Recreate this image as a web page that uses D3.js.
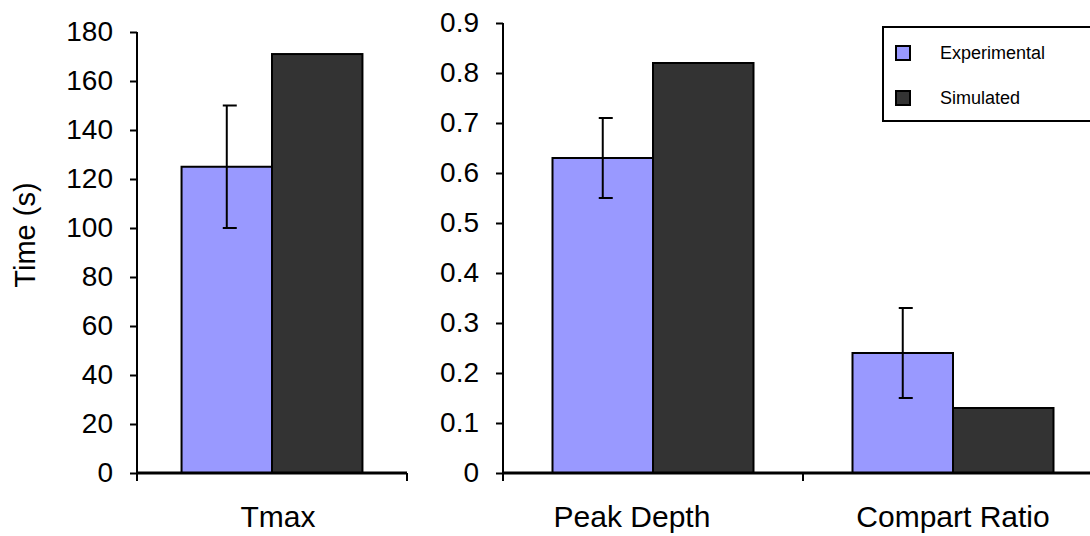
<!DOCTYPE html>
<html>
<head>
<meta charset="utf-8">
<script src="https://cdn.jsdelivr.net/npm/d3@7"></script>
<style>
  html, body { margin: 0; padding: 0; background: #fff; }
  svg { display: block; font-family: "Liberation Sans", Arial, sans-serif; }
</style>
</head>
<body>
<svg id="chart" width="1090" height="536"></svg>
<script>
// ---- data ----
const seriesNames = ["Experimental", "Simulated"];
const seriesColors = ["#9999FF", "#333333"];

const leftCategories = ["Tmax"];
const leftExperimental = [125];
const leftSimulated = [171];
const leftErrors = [25];
const leftTicks = [0, 20, 40, 60, 80, 100, 120, 140, 160, 180];
const leftTickLabels = ["0", "20", "40", "60", "80", "100", "120", "140", "160", "180"];

const rightCategories = ["Peak Depth", "Compart Ratio"];
const rightExperimental = [0.63, 0.24];
const rightSimulated = [0.82, 0.13];
const rightErrors = [0.08, 0.09];
const rightTicks = [0, 0.1, 0.2, 0.3, 0.4, 0.5, 0.6, 0.7, 0.8, 0.9];
const rightTickLabels = ["0", "0.1", "0.2", "0.3", "0.4", "0.5", "0.6", "0.7", "0.8", "0.9"];

const yLabel = "Time (s)";

// ---- drawing ----
const svg = d3.select("#chart");
const baseY = 473;

function panel(cfg) {
  const g = svg.append("g");
  const y = d3.scaleLinear().domain([0, cfg.max]).range([baseY, cfg.top]);
  const x0 = d3.scaleBand().domain(cfg.categories).range([cfg.x0, cfg.x1])
    .paddingInner(0.33).paddingOuter(0.165);
  const xs = d3.scaleBand().domain(seriesNames).range([0, x0.bandwidth()]);
  const color = d3.scaleOrdinal().domain(seriesNames).range(seriesColors);

  const rows = cfg.categories.map((c, i) => ({
    cat: c, vals: [cfg.exp[i], cfg.sim[i]], err: cfg.err[i]
  }));

  // bars
  rows.forEach(r => {
    r.vals.forEach((v, j) => {
      const s = seriesNames[j];
      g.append("rect")
        .attr("x", x0(r.cat) + xs(s))
        .attr("y", y(v))
        .attr("width", xs.bandwidth())
        .attr("height", baseY - y(v))
        .attr("fill", color(s))
        .attr("stroke", "#000")
        .attr("stroke-width", 2);
    });
    // error bar on experimental
    const cx = x0(r.cat) + xs(seriesNames[0]) + xs.bandwidth() / 2;
    const yt = y(r.vals[0] + r.err), yb = y(r.vals[0] - r.err);
    const eg = g.append("g").attr("stroke", "#000").attr("stroke-width", 2);
    eg.append("line").attr("x1", cx).attr("x2", cx).attr("y1", yt).attr("y2", yb);
    eg.append("line").attr("x1", cx - 4).attr("x2", cx + 10).attr("y1", yt).attr("y2", yt);
    eg.append("line").attr("x1", cx - 4).attr("x2", cx + 10).attr("y1", yb).attr("y2", yb);
  });

  // y axis
  const ax = d3.axisLeft(y).tickValues(cfg.ticks)
    .tickFormat((d, i) => cfg.tickLabels[i])
    .tickSize(7).tickSizeOuter(0).tickPadding(17);
  const ag = g.append("g").attr("transform", `translate(${cfg.x0},0)`).call(ax);
  ag.select(".domain").remove();
  ag.selectAll(".tick line").attr("stroke", "#000").attr("stroke-width", 2);
  ag.selectAll(".tick text").attr("font-size", 28).attr("fill", "#000")
    .attr("font-family", "'Liberation Sans', Arial, sans-serif");
  g.append("line").attr("x1", cfg.x0).attr("x2", cfg.x0)
    .attr("y1", y(cfg.max)).attr("y2", baseY + 8)
    .attr("stroke", "#000").attr("stroke-width", 2);

  // x baseline
  g.append("line").attr("x1", cfg.x0).attr("x2", Math.min(cfg.x1, 1090))
    .attr("y1", baseY).attr("y2", baseY)
    .attr("stroke", "#000").attr("stroke-width", 3);
  // category boundary ticks
  const step = x0.step();
  const bounds = d3.range(1, cfg.categories.length + 1).map(i => cfg.x0 + i * step);
  bounds.forEach(bx => {
    g.append("line").attr("x1", bx).attr("x2", bx)
      .attr("y1", baseY).attr("y2", baseY + 8)
      .attr("stroke", "#000").attr("stroke-width", 2);
  });

  // category labels
  g.selectAll("text.cat").data(cfg.categories).enter().append("text")
    .attr("class", "cat")
    .attr("x", d => x0(d) + x0.bandwidth() / 2 + (cfg.labelShift ? cfg.labelShift[cfg.categories.indexOf(d)] : 0))
    .attr("y", 527)
    .attr("text-anchor", "middle")
    .attr("font-size", 30)
    .attr("fill", "#000")
    .text(d => d);
}

panel({
  categories: leftCategories, exp: leftExperimental, sim: leftSimulated, err: leftErrors,
  ticks: leftTicks, tickLabels: leftTickLabels, max: 180, top: 32, x0: 137, x1: 407,
  labelShift: [6]
});
panel({
  categories: rightCategories, exp: rightExperimental, sim: rightSimulated, err: rightErrors,
  ticks: rightTicks, tickLabels: rightTickLabels, max: 0.9, top: 23, x0: 503, x1: 1103,
  labelShift: [-21, 0]
});

// y axis title
svg.append("text")
  .attr("transform", "translate(35,235) rotate(-90)")
  .attr("text-anchor", "middle")
  .attr("font-size", 29)
  .attr("fill", "#000")
  .text(yLabel);

// legend
const lg = svg.append("g");
lg.append("rect").attr("x", 883).attr("y", 27).attr("width", 220).attr("height", 94)
  .attr("fill", "#fff").attr("stroke", "#000").attr("stroke-width", 2);
seriesNames.forEach((s, i) => {
  const cy = 53 + i * 45;
  lg.append("rect").attr("x", 896).attr("y", cy - 7).attr("width", 14).attr("height", 14)
    .attr("fill", seriesColors[i]).attr("stroke", "#000").attr("stroke-width", 2);
  lg.append("text").attr("x", 940).attr("y", cy).attr("dy", "0.35em")
    .attr("font-size", 18).attr("fill", "#000").text(s);
});
</script>
</body>
</html>
